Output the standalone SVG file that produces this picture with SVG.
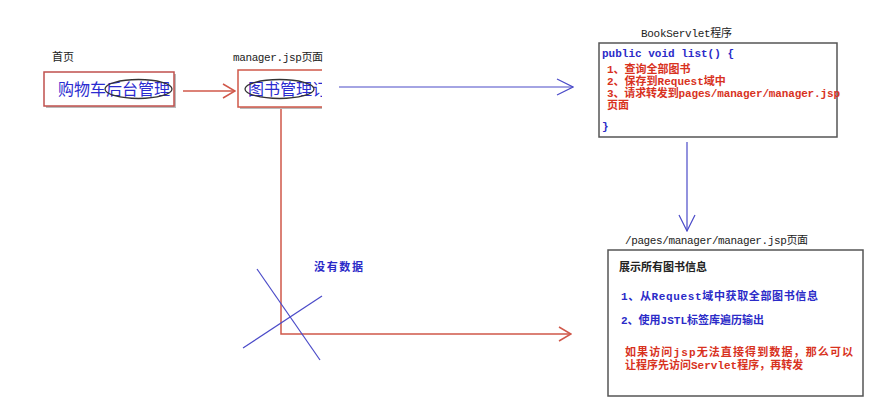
<svg xmlns="http://www.w3.org/2000/svg" width="891" height="416" viewBox="0 0 891 416">
<style>
.lbl{font-family:"Liberation Mono","Noto Sans CJK SC",monospace;font-size:11px;fill:#222}
.big{font-family:"Liberation Sans","Noto Sans CJK SC",sans-serif;font-size:16px;fill:#2b2bd0}
.code{font-family:"Liberation Mono","Noto Sans CJK SC",monospace;font-size:11px;font-weight:bold}
.blue{fill:#2b2bc8}
.red{fill:#d8321e}
.blk{fill:#222}
.box{fill:#fff;stroke:#555;stroke-width:1.5}
.rbox{fill:#fff;stroke:#c0504d;stroke-width:1.5}
.shadow{fill:#bbb}
.ell{fill:none;stroke:#333;stroke-width:1.3}
.rl{fill:none;stroke:#d0584a;stroke-width:1.5}
.bl{fill:none;stroke:#4a4ac8;stroke-width:1.2}
</style>
<defs>
<marker id="ar" markerWidth="14" markerHeight="16" refX="13" refY="8" orient="auto" markerUnits="userSpaceOnUse">
<path d="M1,1 L13,8 L1,15" fill="none" stroke="#d0584a" stroke-width="1.5"/>
</marker>
<marker id="ab" markerWidth="18" markerHeight="18" refX="17" refY="9" orient="auto" markerUnits="userSpaceOnUse">
<path d="M1,1 L17,9 L1,17" fill="none" stroke="#4a4ac8" stroke-width="1.2"/>
</marker>
<clipPath id="mclip"><rect x="230" y="60" width="92" height="60"/></clipPath>
</defs>

<g id="connectors">
<line class="rl" x1="183" y1="91" x2="235" y2="91" marker-end="url(#ar)"/>
<line class="bl" x1="339" y1="87" x2="573" y2="87" marker-end="url(#ab)"/>
<line class="bl" x1="687" y1="142" x2="687" y2="231" marker-end="url(#ab)"/>
<polyline class="rl" points="281,108 281,334 571,334" marker-end="url(#ar)"/>
<line class="bl" x1="257" y1="269" x2="320" y2="360"/>
<line class="bl" x1="243" y1="348" x2="322" y2="296"/>
<text class="code blue" x="314" y="271" textLength="49">没有数据</text>
</g>

<g id="home">
<text class="lbl" x="52" y="61">首页</text>
<rect class="shadow" x="46" y="74" width="130" height="34"/>
<rect class="rbox" x="44" y="72" width="130" height="34"/>
<text class="big" x="58" y="95">购物车后台管理</text>
<ellipse class="ell" cx="138.5" cy="89" rx="33.5" ry="9.5"/>
</g>

<g id="manager">
<text class="lbl" x="233" y="61" textLength="90">manager.jsp页面</text>
<g clip-path="url(#mclip)">
<rect class="shadow" x="240" y="72" width="100" height="37"/>
<rect x="238" y="70" width="100" height="37" fill="#fff"/>
<path d="M340,70 L238,70 L238,107 L340,107" class="rl"/>
<text class="big" x="248" y="95">图书管理订</text>
</g>
<ellipse class="ell" cx="279.5" cy="89" rx="34.5" ry="9.5"/>
</g>

<g id="bookservlet">
<text class="lbl" x="641" y="37" textLength="91">BookServlet程序</text>
<rect class="box" x="599" y="43" width="238" height="94"/>
<text class="code blue" x="602" y="57">public void list() {</text>
<text class="code red" x="607" y="73">1、查询全部图书</text>
<text class="code red" x="607" y="85">2、保存到Request域中</text>
<text class="code red" x="607" y="97" textLength="233">3、请求转发到pages/manager/manager.jsp</text>
<text class="code red" x="607" y="109">页面</text>
<text class="code blue" x="602" y="130">}</text>
</g>

<g id="managerjsp">
<text class="lbl" x="625" y="244" textLength="183">/pages/manager/manager.jsp页面</text>
<rect class="box" x="608" y="250" width="255" height="146"/>
<text class="code blk" x="619" y="271">展示所有图书信息</text>
<text class="code blue" x="621" y="300" textLength="197">1、从Request域中获取全部图书信息</text>
<text class="code blue" x="621" y="324">2、使用JSTL标签库遍历输出</text>
<text class="code red" x="625" y="356" textLength="228">如果访问jsp无法直接得到数据，那么可以</text>
<text class="code red" x="625" y="369">让程序先访问Servlet程序，再转发</text>
</g>
</svg>
